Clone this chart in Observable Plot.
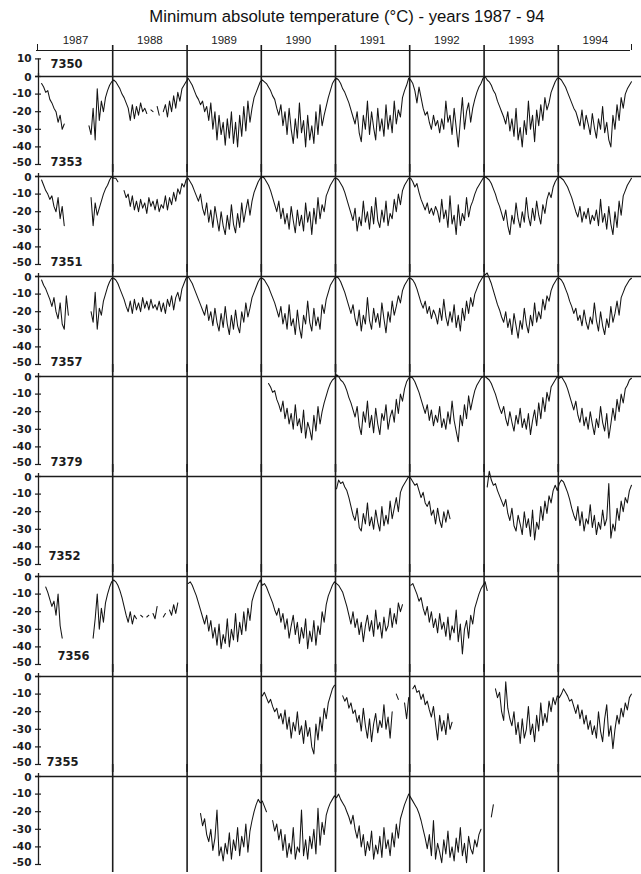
<!DOCTYPE html>
<html>
<head>
<meta charset="utf-8">
<script src="https://cdn.jsdelivr.net/npm/d3@7"></script>
<script src="https://cdn.jsdelivr.net/npm/@observablehq/plot@0.6"></script>
<style>
  html, body { margin: 0; padding: 0; background: #fff; overflow: hidden; }
  #title { position: relative; height: 30px; font-family: "Liberation Sans", Arial, sans-serif; font-size: 16.7px; color: #111; }
  #title div { position: absolute; left: 53px; width: 588px; top: 7px; line-height: 20px; text-align: center; white-space: nowrap; }
  #chart svg { display: block; }
</style>
</head>
<body>
<div id="title"><div>Minimum absolute temperature (°C) - years 1987 - 94</div></div>
<div id="chart"></div>
<script>
const _ = null;
const stations = ["7350", "7353", "7351", "7357", "7379", "7352", "7356", "7355"];
const startYear = [1987, 1987, 1987, 1990, 1991, 1987, 1990, 1989];
const years = [1987, 1988, 1989, 1990, 1991, 1992, 1993, 1994];
const yTicks = [0, -10, -20, -30, -40, -50];
const topTick = 10;

// about 36 readings per year (≈10-day steps), °C; _ = no data
const t7350 = [
  _,-4,-6,-9,-8,-13,-15,-18,-20,-26,-22,-30,-27,_,_,_,_,_,_,_,_,_,_,_,-28,-33,-18,-36,-7,-25,-14,-20,-12,-8,-5,-3,
  -2,-3,-5,-7,-10,-12,-15,-18,-25,-16,-24,-17,-22,-15,-20,-18,-21,_,-19,-20,_,-17,-22,_,-20,-16,-23,-14,-20,-11,-18,-9,-14,-7,-5,-3,
  -1,-3,-5,-8,-11,-13,-16,-14,-20,-17,-25,-15,-30,-20,-36,-22,-33,-26,-39,-24,-35,-20,-38,-26,-40,-22,-34,-17,-31,-14,-26,-18,-12,-9,-6,-3,
  -2,-3,-4,-6,-8,-11,-13,-18,-22,-16,-28,-20,-33,-18,-30,-38,-24,-35,-15,-32,-25,-40,-22,-36,-28,-38,-20,-33,-16,-28,-22,-17,-12,-8,-4,-2,
  -1,-2,-4,-7,-9,-12,-15,-19,-23,-27,-20,-32,-37,-22,-30,-14,-33,-20,-29,-36,-18,-31,-24,-34,-16,-30,-22,-32,-14,-27,-19,-23,-12,-8,-5,-1,
  -2,-4,-8,-15,-6,-12,-18,-22,-20,-26,-30,-22,-28,-25,-32,-24,-30,-14,-26,-22,-33,-18,-29,-40,-25,-12,-30,-20,-15,-26,-18,-13,-9,-6,-4,-1,
  0,-2,-3,-5,-8,-10,-14,-17,-20,-23,-27,-20,-31,-24,-34,-18,-36,-29,-40,-25,-33,-14,-30,-22,-37,-19,-28,-16,-25,-12,-19,-15,-9,-6,-3,-1,
  -1,-2,-4,-6,-9,-12,-15,-18,-20,-24,-28,-19,-30,-22,-27,-33,-21,-29,-35,-24,-30,-17,-32,-26,-36,-40,-22,-30,-16,-25,-12,-18,-10,-7,-5,-3
];
const t7353 = [
  _,-2,-5,-8,-10,-13,-11,-17,-20,-12,-24,-17,-28,_,_,_,_,_,_,_,_,_,_,_,_,-12,-28,-15,-22,-18,-14,-10,-7,-5,-2,0,
  -1,-1,-3,_,_,-8,-12,-10,-17,-11,-19,-14,-20,-13,-18,-15,-21,-12,-17,-14,-19,-13,-20,-16,-18,-11,-19,-12,-16,-9,-14,-7,-10,-4,-6,-2,
  -1,-3,-5,-8,-11,-14,-10,-18,-22,-15,-26,-19,-29,-17,-24,-31,-20,-28,-33,-22,-30,-16,-27,-32,-21,-29,-15,-26,-19,-13,-22,-14,-9,-6,-3,-1,
  0,-1,-3,-5,-8,-12,-16,-20,-14,-24,-18,-27,-21,-30,-17,-25,-32,-19,-28,-22,-31,-15,-26,-20,-33,-18,-27,-12,-24,-16,-20,-11,-8,-5,-3,-1,
  -1,-2,-4,-6,-9,-13,-17,-21,-25,-18,-31,-23,-28,-14,-26,-20,-30,-17,-27,-12,-25,-29,-19,-26,-14,-28,-21,-24,-13,-20,-10,-16,-8,-5,-3,-1,
  -1,-3,-6,-4,-9,-13,-16,-19,-15,-21,-18,-22,-17,-20,-26,-13,-24,-19,-29,-11,-27,-22,-33,-16,-28,-21,-25,-12,-23,-17,-14,-10,-7,-5,-3,-1,
  0,-1,-2,-4,-7,-10,-14,-17,-21,-25,-19,-28,-33,-22,-27,-15,-24,-29,-20,-26,-12,-23,-28,-18,-25,-14,-22,-27,-16,-21,-13,-9,-12,-6,-3,-1,
  0,-1,-2,-4,-6,-9,-12,-16,-20,-23,-17,-26,-20,-24,-18,-27,-22,-25,-19,-28,-13,-26,-21,-30,-17,-27,-33,-20,-29,-14,-22,-11,-8,-5,-3,-1
];
const t7351 = [
  _,-2,-5,-7,-10,-13,-17,-12,-20,-24,-15,-27,-30,-11,-22,_,_,_,_,_,_,_,_,_,_,-20,-26,-9,-30,-18,-22,-14,-10,-6,-3,-1,
  -1,-2,-4,-7,-10,-13,-17,-20,-14,-21,-13,-19,-15,-20,-12,-18,-14,-19,-13,-18,-16,-19,-14,-20,-15,-21,-13,-17,-11,-19,-12,-9,-14,-7,-4,-1,
  0,-2,-4,-7,-10,-13,-16,-19,-22,-16,-25,-20,-28,-18,-26,-31,-21,-29,-17,-27,-33,-22,-30,-19,-28,-32,-20,-26,-15,-23,-18,-12,-9,-6,-3,-1,
  -1,-2,-4,-6,-9,-12,-15,-19,-23,-17,-27,-21,-30,-16,-28,-24,-33,-19,-29,-35,-22,-27,-14,-26,-31,-18,-28,-23,-30,-16,-21,-13,-9,-5,-3,-1,
  0,-1,-3,-6,-9,-13,-17,-21,-16,-24,-28,-19,-31,-22,-27,-12,-25,-30,-18,-26,-21,-29,-15,-24,-32,-20,-26,-14,-22,-17,-11,-15,-8,-5,-3,-1,
  -1,-2,-4,-7,-11,-15,-18,-14,-21,-17,-24,-19,-22,-27,-18,-25,-13,-23,-28,-20,-26,-16,-29,-22,-31,-18,-25,-14,-21,-12,-17,-10,-7,-4,-2,0,
  1,2,-1,-4,-8,-12,-16,-19,-23,-26,-20,-29,-24,-33,-21,-28,-35,-25,-30,-18,-27,-32,-22,-28,-15,-26,-20,-24,-13,-19,-11,-14,-8,-5,-3,-1,
  -1,-2,-4,-7,-10,-14,-17,-21,-18,-25,-22,-28,-19,-26,-30,-23,-27,-15,-25,-31,-20,-28,-33,-24,-29,-17,-26,-21,-14,-22,-12,-9,-6,-4,-2,-1
];
const t7357 = [
  _,_,_,-4,-6,-9,-8,-13,-16,-20,-14,-24,-18,-27,-21,-30,-16,-28,-24,-32,-19,-35,-26,-30,-36,-22,-31,-17,-27,-20,-15,-11,-7,-4,-2,-1,
  1,0,-2,-3,-5,-8,-12,-15,-19,-23,-17,-28,-33,-20,-26,-14,-29,-22,-32,-18,-27,-33,-21,-25,-16,-30,-23,-19,-26,-13,-21,-10,-14,-7,-3,-1,
  0,-1,-3,-6,-9,-13,-17,-21,-16,-25,-19,-28,-22,-26,-17,-29,-24,-30,-20,-27,-14,-25,-31,-37,-22,-28,-16,-24,-11,-19,-13,-8,-5,-3,-1,0,
  0,-1,-2,-4,-7,-10,-14,-18,-21,-17,-24,-28,-20,-26,-31,-22,-27,-18,-29,-24,-30,-21,-33,-25,-19,-28,-15,-24,-12,-20,-9,-14,-6,-4,-2,0,
  -1,0,-2,-4,-7,-11,-15,-19,-14,-22,-26,-18,-28,-23,-30,-20,-27,-33,-24,-29,-17,-26,-31,-21,-35,-27,-18,-25,-13,-20,-10,-15,-7,-5,-2,-1
];
const t7379 = [
  -7,-2,-4,-3,-6,-8,-12,-17,-22,-25,-18,-29,-31,-21,-27,-15,-28,-23,-30,-19,-26,-31,-17,-28,-22,-27,-14,-24,-18,-12,-20,-9,-6,-4,-2,0,
  -1,-3,-5,-4,-8,-12,-9,-15,-17,-14,-22,-19,-27,-18,-25,-29,-20,-26,-19,-24,_,_,_,_,_,_,_,_,_,_,_,_,_,_,_,_,
  _,-6,3,-2,-5,-4,-8,-11,-14,-17,-13,-21,-25,-18,-28,-31,-22,-27,-33,-20,-29,-24,-34,-19,-36,-26,-30,-17,-25,-14,-21,-11,-15,-8,-5,-8,
  -4,-2,-3,-6,-9,-13,-18,-22,-25,-17,-28,-20,-31,-24,-27,-16,-29,-22,-33,-26,-30,-19,-28,-24,-4,-35,-27,-31,-18,-25,-14,-20,-12,-15,-8,-5
];
const t7352 = [
  _,_,_,-6,-9,-13,-17,-14,-22,-10,-28,-35,_,_,_,_,_,_,_,_,_,_,_,_,_,_,-35,-24,-10,-30,-18,-26,-15,-10,-6,-3,
  -2,-3,-5,-8,-12,-17,-22,-26,-20,-27,-22,-24,_,-22,-23,_,-23,-22,_,-21,-24,-17,_,_,-23,-21,_,-19,-22,-16,-21,-15,_,_,_,_,
  -4,-3,-5,-8,-11,-15,-19,-23,-27,-22,-31,-25,-35,-29,-39,-27,-41,-33,-38,-24,-40,-30,-36,-21,-37,-26,-33,-20,-31,-18,-25,-14,-10,-7,-4,-2,
  -5,-4,-6,-9,-12,-15,-19,-22,-18,-26,-21,-30,-24,-35,-28,-22,-33,-26,-38,-29,-35,-24,-41,-31,-37,-25,-39,-28,-33,-20,-26,-16,-11,-8,-5,-3,
  -4,-5,-7,-9,-13,-17,-22,-27,-20,-29,-24,-33,-26,-37,-28,-22,-31,-25,-34,-19,-30,-26,-35,-23,-31,-28,-18,-29,-21,-27,-15,-20,-16,_,_,_,
  -5,-4,-7,-10,-14,-12,-18,-22,-17,-26,-20,-29,-24,-32,-21,-30,-26,-34,-23,-36,-28,-32,-19,-37,-27,-44,-30,-25,-35,-22,-27,-18,-14,-10,-7,-5,
  -3,-8
];
const t7356 = [
  -11,-9,-12,-15,-13,-17,-20,-18,-24,-21,-27,-19,-30,-23,-35,-26,-31,-20,-33,-28,-38,-25,-34,-29,-40,-44,-27,-36,-23,-31,-18,-24,-15,-11,-7,-5,
  _,_,_,-11,-14,-12,-18,-15,-21,-19,-26,-22,-31,-18,-28,-35,-24,-37,-27,-21,-32,-25,-29,-16,-30,-23,-35,-20,_,-10,-13,_,_,-15,-24,-12,
  _,-7,-5,-9,-8,-13,-10,-16,-14,-19,-23,-17,-27,-36,-22,-31,-25,-33,-21,-30,-26,_,_,_,_,_,_,_,_,_,_,_,_,_,_,_,
  _,_,_,_,_,-7,-12,-9,-20,-25,-3,-18,-24,-28,-20,-33,-26,-38,-24,-35,-30,-17,-33,-27,-37,-22,-31,-15,-28,-21,-26,-14,-20,-12,-16,-11,
  -12,-10,-7,-9,-11,-14,-13,-17,-21,-16,-24,-19,-27,-22,-30,-25,-33,-28,-35,-20,-31,-37,-24,-16,-34,-28,-41,-30,-22,-27,-18,-23,-15,-19,-12,-10
];
const t7355 = [
  _,_,_,_,_,_,-21,-28,-24,-33,-37,-30,-42,-35,-19,-45,-40,-48,-38,-44,-32,-47,-36,-42,-29,-45,-34,-40,-27,-43,-31,-25,-20,-16,-13,-15,
  -14,-17,-20,_,_,-25,-31,-27,-36,-30,-42,-33,-46,-38,-44,-29,-47,-40,-43,-19,-45,-36,-47,-34,-41,-30,-44,-18,-39,-26,-33,-22,-18,-15,-13,-11,
  -12,-10,-13,-15,-17,-20,-23,-27,-22,-30,-35,-28,-40,-33,-45,-37,-42,-31,-47,-39,-44,-34,-46,-29,-41,-36,-45,-32,-40,-27,-35,-24,-20,-16,-13,-10,
  -12,-14,-16,-18,-21,-25,-30,-35,-41,-33,-45,-25,-47,-38,-43,-49,-36,-44,-31,-46,-40,-48,-35,-43,-29,-45,-38,-49,-34,-41,-44,-36,-40,-33,-30,_,
  _,_,_,-23,-16
];
const series = [t7350, t7353, t7351, t7357, t7379, t7352, t7356, t7355];

// table for the library
const rows = [];
stations.forEach((s, k) => {
  series[k].forEach((v, j) => {
    const yr = startYear[k] + Math.floor(j / 36);
    const slot = j % 36;
    const a = Date.UTC(yr, 0, 1), b = Date.UTC(yr + 1, 0, 1);
    rows.push({station: s, date: new Date(a + (b - a) * (slot + 0.5) / 36), t: v == null ? NaN : v});
  });
});

const x0 = new Date(Date.UTC(years[0], 0, 1));
const x1 = new Date(Date.UTC(years[years.length - 1] + 1, 0, 1));
const boundaries = years.slice(1).map(y => new Date(Date.UTC(y, 0, 1)));
const first = stations[0];
const restGrid = stations.slice(1).flatMap(s => boundaries.map(b => ({s, b})));

const ink = "#1c1c1c";
const numFont = {fontFamily: "DejaVu Sans, sans-serif", fontWeight: "bold", fill: ink};
const label = (list, dx, dy) => Plot.text(list, {fy: d => d, text: d => d, frameAnchor: "top-left", lineAnchor: "middle", textAnchor: "start", dx, dy, fontSize: 11.5, ...numFont});
const yLabel = (list, dy, extra = {}) => Plot.text(list, {y: d => d, text: d => String(d), frameAnchor: "left", lineAnchor: "middle", textAnchor: "end", dx: -7, dy, fontSize: 10.5, ...numFont, ...extra});

const chart = Plot.plot({
  width: 641,
  height: 844,
  marginTop: 46,
  marginBottom: 9.5,
  marginLeft: 38,
  marginRight: 9,
  style: {fontFamily: "Liberation Sans, Arial, sans-serif", background: "#fff", overflow: "visible"},
  x: {type: "utc", domain: [x0, x1], axis: null},
  y: {domain: [-50, 0], axis: null},
  fy: {domain: stations, axis: null, paddingInner: 0.12, paddingOuter: 0, round: true},
  marks: [
    // top year axis
    Plot.ruleY([0], {fy: () => first, dy: -26, insetLeft: -2, insetRight: 2, stroke: ink, strokeWidth: 1}),
    Plot.ruleX([x0, x1], {fy: () => first, y1: () => 0, y2: () => 0, insetTop: -6, dy: -26, dx: -1, stroke: ink, strokeWidth: 1}),
    Plot.text(years, {fy: () => first, x: y => new Date(Date.UTC(y, 6, 2)), text: y => String(y), frameAnchor: "top", lineAnchor: "middle", dy: -36, fontSize: 11.5, fill: ink}),
    // year boundaries
    Plot.ruleX(boundaries, {fy: () => first, insetTop: -31, insetBottom: -8, stroke: ink, strokeWidth: 1.6}),
    Plot.ruleX(restGrid, {x: "b", fy: "s", insetTop: -12, insetBottom: -8, stroke: ink, strokeWidth: 1.6}),
    // zero lines
    Plot.ruleY([0], {insetLeft: -3, insetRight: -9, stroke: ink, strokeWidth: 1.3}),
    // y axes
    Plot.ruleX([x0], {insetTop: -3, stroke: ink, strokeWidth: 1.3}),
    Plot.ruleX([x0], {fy: () => first, y1: () => topTick, y2: () => 0, stroke: ink, strokeWidth: 1.3}),
    Plot.ruleY(yTicks, {y: d => d, x1: () => x0, x2: () => x0, insetLeft: -3, insetRight: -3, stroke: ink, strokeWidth: 1.2}),
    Plot.ruleY([topTick], {fy: () => first, y: d => d, x1: () => x0, x2: () => x0, insetLeft: -3, insetRight: -3, stroke: ink, strokeWidth: 1.2}),
    yLabel(yTicks.filter(d => d === 0), 1.5),
    yLabel(yTicks.filter(d => d < 0 && d > -50), 0),
    yLabel(yTicks.filter(d => d === -50), -1.5),
    yLabel([topTick], 0, {fy: () => first}),
    // station labels
    label(["7350"], 12, -12),
    label(["7353", "7351", "7357", "7379"], 12, -14),
    label(["7352"], 10, -20),
    label(["7356"], 19, -20),
    label(["7355"], 8, -14),
    // temperature series
    Plot.line(rows, {x: "date", y: "t", fy: "station", z: "station", stroke: "#141414", strokeWidth: 1.05})
  ]
});
document.getElementById("chart").appendChild(chart);
</script>
</body>
</html>
